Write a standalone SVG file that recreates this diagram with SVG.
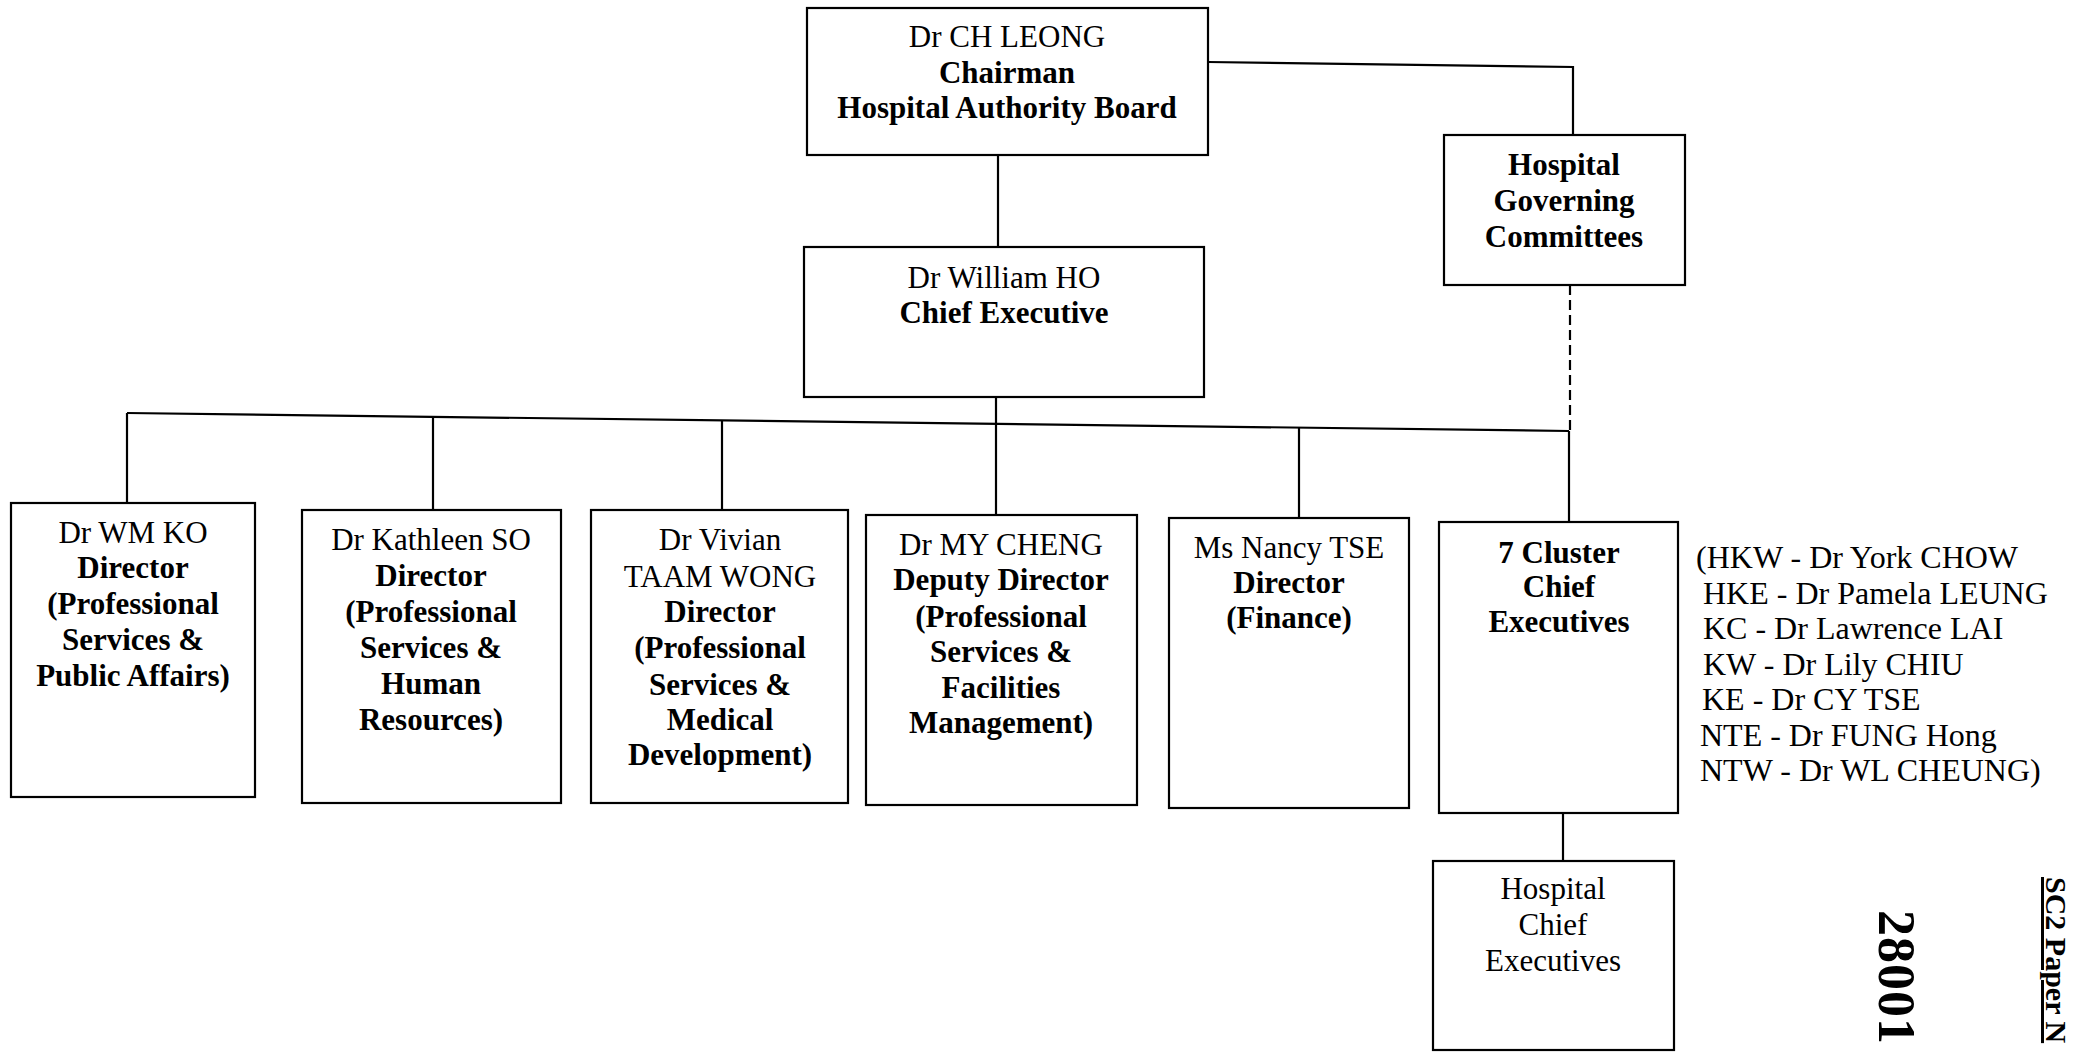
<svg xmlns="http://www.w3.org/2000/svg" width="2073" height="1053" viewBox="0 0 2073 1053">
<style>
.box{fill:#fff;stroke:#000;stroke-width:2.2}
.ln{fill:none;stroke:#000;stroke-width:2.2}
.dash{fill:none;stroke:#000;stroke-width:2.2;stroke-dasharray:10 5}
text{font-family:"Liberation Serif","Times New Roman",serif;font-size:31px;fill:#000}
.c{text-anchor:middle}
.b{font-weight:bold}
.list{font-size:32px}
</style>
<rect width="2073" height="1053" fill="#fff"/>
<g id="connectors">
<polyline class="ln" points="1208,62 1573,67 1573,135"/>
<line class="ln" x1="998" y1="155" x2="998" y2="247"/>
<line class="ln" x1="996" y1="397" x2="996" y2="515"/>
<line class="ln" x1="127" y1="413" x2="1569" y2="431"/>
<line class="ln" x1="127" y1="413" x2="127" y2="503"/>
<line class="ln" x1="433" y1="417" x2="433" y2="510"/>
<line class="ln" x1="722" y1="420" x2="722" y2="510"/>
<line class="ln" x1="1299" y1="427" x2="1299" y2="518"/>
<line class="dash" x1="1570" y1="285" x2="1570" y2="431"/>
<line class="ln" x1="1569" y1="431" x2="1569" y2="522"/>
<line class="ln" x1="1563" y1="813" x2="1563" y2="861"/>
</g>
<g id="chairman">
<rect class="box" x="807" y="8" width="401" height="147"/>
<text class="c" x="1007" y="47">Dr CH LEONG</text>
<text class="c b" x="1007" y="83">Chairman</text>
<text class="c b" x="1007" y="118">Hospital Authority Board</text>
</g>
<g id="hgc">
<rect class="box" x="1444" y="135" width="241" height="150"/>
<text class="c b" x="1564" y="175">Hospital</text>
<text class="c b" x="1564" y="211">Governing</text>
<text class="c b" x="1564" y="247">Committees</text>
</g>
<g id="ce">
<rect class="box" x="804" y="247" width="400" height="150"/>
<text class="c" x="1004" y="288">Dr William HO</text>
<text class="c b" x="1004" y="323">Chief Executive</text>
</g>
<g id="wmko">
<rect class="box" x="11" y="503" width="244" height="294"/>
<text class="c" x="133" y="543">Dr WM KO</text>
<text class="c b" x="133" y="578">Director</text>
<text class="c b" x="133" y="614">(Professional</text>
<text class="c b" x="133" y="650">Services &amp;</text>
<text class="c b" x="133" y="686">Public Affairs)</text>
</g>
<g id="kathleen">
<rect class="box" x="302" y="510" width="259" height="293"/>
<text class="c" x="431" y="550">Dr Kathleen SO</text>
<text class="c b" x="431" y="586">Director</text>
<text class="c b" x="431" y="622">(Professional</text>
<text class="c b" x="431" y="658">Services &amp;</text>
<text class="c b" x="431" y="694">Human</text>
<text class="c b" x="431" y="730">Resources)</text>
</g>
<g id="vivian">
<rect class="box" x="591" y="510" width="257" height="293"/>
<text class="c" x="720" y="550">Dr Vivian</text>
<text class="c" x="720" y="587">TAAM WONG</text>
<text class="c b" x="720" y="622">Director</text>
<text class="c b" x="720" y="658">(Professional</text>
<text class="c b" x="720" y="695">Services &amp;</text>
<text class="c b" x="720" y="730">Medical</text>
<text class="c b" x="720" y="765">Development)</text>
</g>
<g id="mycheng">
<rect class="box" x="866" y="515" width="271" height="290"/>
<text class="c" x="1001" y="555">Dr MY CHENG</text>
<text class="c b" x="1001" y="590">Deputy Director</text>
<text class="c b" x="1001" y="627">(Professional</text>
<text class="c b" x="1001" y="662">Services &amp;</text>
<text class="c b" x="1001" y="698">Facilities</text>
<text class="c b" x="1001" y="733">Management)</text>
</g>
<g id="nancy">
<rect class="box" x="1169" y="518" width="240" height="290"/>
<text class="c" x="1289" y="558">Ms Nancy TSE</text>
<text class="c b" x="1289" y="593">Director</text>
<text class="c b" x="1289" y="628">(Finance)</text>
</g>
<g id="cluster">
<rect class="box" x="1439" y="522" width="239" height="291"/>
<text class="c b" x="1559" y="563">7 Cluster</text>
<text class="c b" x="1559" y="597">Chief</text>
<text class="c b" x="1559" y="632">Executives</text>
</g>
<g id="cluster-list">
<text class="list" x="1696" y="568">(HKW - Dr York CHOW</text>
<text class="list" x="1703" y="604">HKE - Dr Pamela LEUNG</text>
<text class="list" x="1703" y="639">KC - Dr Lawrence LAI</text>
<text class="list" x="1703" y="675">KW - Dr Lily CHIU</text>
<text class="list" x="1702" y="710">KE - Dr CY TSE</text>
<text class="list" x="1700" y="746">NTE - Dr FUNG Hong</text>
<text class="list" x="1700" y="781">NTW - Dr WL CHEUNG)</text>
</g>
<g id="hospital-ce">
<rect class="box" x="1433" y="861" width="241" height="189"/>
<text class="c" x="1553" y="899">Hospital</text>
<text class="c" x="1553" y="935">Chief</text>
<text class="c" x="1553" y="971">Executives</text>
</g>
<g id="margin">
<text class="b" transform="translate(1879,910) rotate(90)" style="font-size:52px;letter-spacing:1px">28001</text>
<text class="b" transform="translate(2046,877) rotate(90)" style="font-size:30px;text-decoration:underline">SC2 Paper N</text>
</g>
</svg>
